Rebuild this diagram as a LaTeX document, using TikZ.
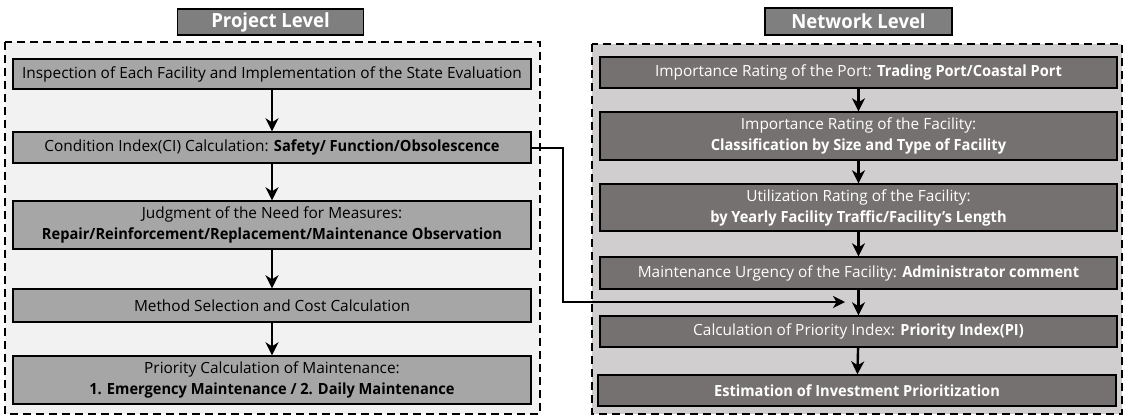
\documentclass[tikz,border=0pt]{standalone}
\usepackage{fontspec}
\setmainfont{Open Sans}[BoldFeatures={FakeStretch=0.95}]
\usetikzlibrary{arrows.meta}
\definecolor{projbg}{HTML}{F2F2F2}
\definecolor{projbox}{HTML}{A6A6A6}
\definecolor{netbg}{HTML}{D0CECE}
\definecolor{netbox}{HTML}{767171}
\definecolor{titlebox}{HTML}{7F7F7F}
\tikzset{
  x=1pt, y=-1pt,
  panel/.style={draw=black, dashed, dash pattern=on 8pt off 5pt, line width=2.6pt},
  titlebar/.style={draw=black, line width=1.3pt, fill=titlebox, text=white,
    font=\fontsize{19.5}{22}\selectfont\bfseries, inner sep=0pt},
  projstep/.style={draw=black, line width=1.4pt, fill=projbox, text=black,
    align=center, inner sep=0pt, minimum width=518pt,
    font=\fontsize{15.4}{21}\selectfont},
  netstep/.style={draw=black, line width=1.4pt, fill=netbox, text=white,
    align=center, inner sep=0pt, minimum width=517pt,
    font=\fontsize{15.4}{21}\selectfont},
  flow/.style={line width=2.4pt, -{Stealth[length=13pt,width=13pt,inset=4pt]}},
  link/.style={line width=2pt, -{Stealth[length=12pt,width=12pt,inset=3.5pt]}},
}
\begin{document}
\begin{tikzpicture}
\useasboundingbox (0,0) rectangle (1124,415);
\fill[white] (0,0) rectangle (1124,415);

% panels
\filldraw[panel, fill=projbg] (5,42) rectangle (540,414);
\filldraw[panel, fill=netbg] (592,44) rectangle (1122,414);

% titles
\node[titlebar, minimum width=186pt, minimum height=26pt] (tp) at (270.5,22) {Project Level};
\node[titlebar, minimum width=187pt, minimum height=27pt] (tn) at (858.5,21.5) {Network Level};

% project level steps
\node[projstep, minimum height=30pt] (p1) at (272,74)
  {Inspection of Each Facility and Implementation of the State Evaluation};
\node[projstep, minimum height=31pt] (p2) at (272,147.5)
  {Condition Index(CI) Calculation: \textbf{Safety/ Function/Obsolescence}};
\node[projstep, minimum height=48pt] (p3) at (272,225)
  {Judgment of the Need for Measures:\\\textbf{Repair/Reinforcement/Replacement/Maintenance Observation}};
\node[projstep, minimum height=33pt] (p4) at (272,305.5)
  {Method Selection and Cost Calculation};
\node[projstep, minimum height=48pt] (p5) at (272,380)
  {Priority Calculation of Maintenance:\\\textbf{1. Emergency Maintenance / 2. Daily Maintenance}};

% network level steps
\node[netstep, minimum height=31pt] (n1) at (858.5,72.5)
  {Importance Rating of the Port: \textbf{Trading Port/Coastal Port}};
\node[netstep, minimum height=48pt] (n2) at (858.5,136)
  {Importance Rating of the Facility:\\\textbf{Classification by Size and Type of Facility}};
\node[netstep, minimum height=47pt] (n3) at (858.5,207.5)
  {Utilization Rating of the Facility:\\\textbf{by Yearly Facility Traffic/Facility’s Length}};
\node[netstep, minimum height=32pt] (n4) at (858.5,273)
  {Maintenance Urgency of the Facility: \textbf{Administrator comment}};
\node[netstep, minimum height=31pt] (n5) at (858.5,331.5)
  {Calculation of Priority Index: \textbf{Priority Index(PI)}};
\node[netstep, minimum height=31pt, minimum width=518pt] (n6) at (857,390.5)
  {\textbf{Estimation of Investment Prioritization}};

% flows
\foreach \a/\b in {p1/p2,p2/p3,p3/p4,p4/p5,n1/n2,n2/n3,n3/n4,n4/n5,n5/n6}
  \draw[flow] (\a) -- (\b);

% condition index feeds the priority index
\coordinate (join) at (845,302);
\draw[link] (p2.east) -- ++(31,0) |- (join);
\end{tikzpicture}
\end{document}
